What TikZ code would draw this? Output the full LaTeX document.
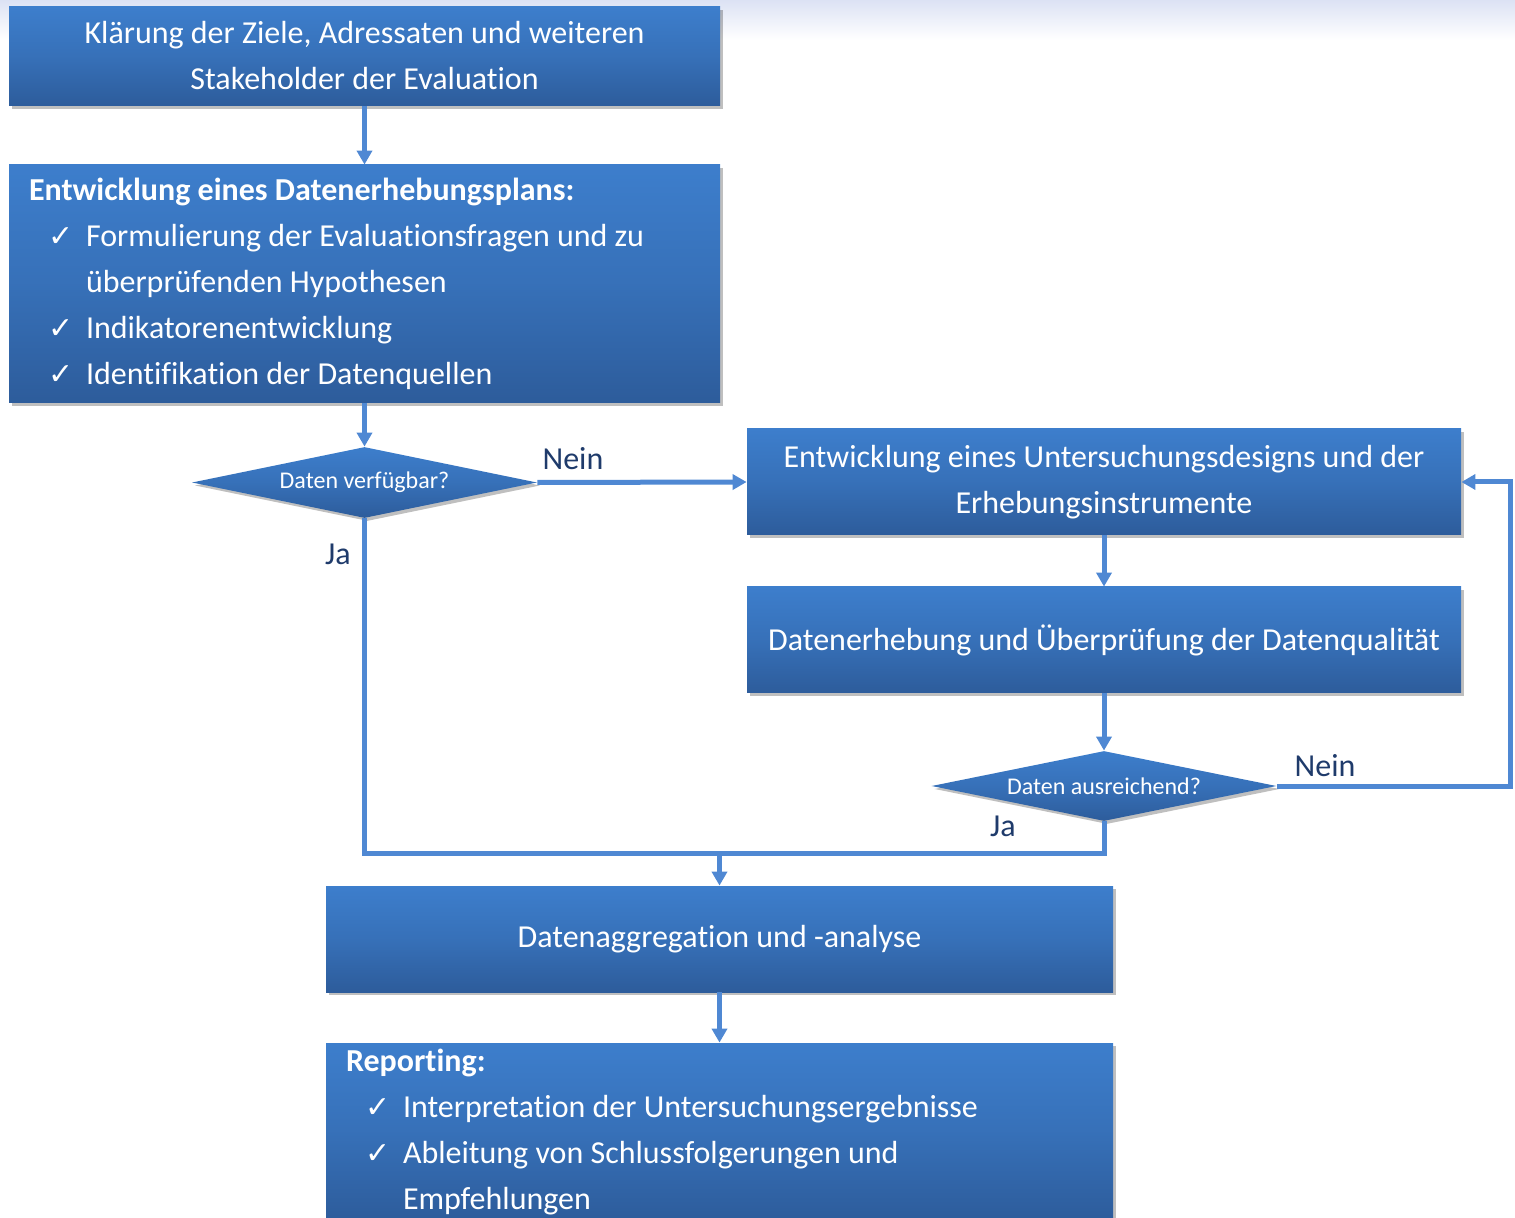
\documentclass[tikz,border=0pt]{standalone}
\usepackage{fontspec}
\setmainfont{Carlito}[Ligatures=NoCommon]
\newfontfamily\symfont{DejaVu Sans}
\usetikzlibrary{shapes.geometric,arrows.meta,shadows}
\definecolor{boxtop}{HTML}{3D7ECC}
\definecolor{boxbot}{HTML}{2D5C9B}
\definecolor{conn}{HTML}{4F88D3}
\definecolor{lbl}{HTML}{1F3B6B}
\definecolor{bgtop}{HTML}{DCE2F4}
\newcommand{\chk}{\hspace*{9.5pt}\makebox[19pt][l]{{\symfont\fontsize{15}{23}\selectfont ✓}}}
\newcommand{\cont}{\hspace*{28.5pt}}
\tikzset{
  boxshade/.style={top color=boxtop, bottom color=boxbot, middle color=boxtop!60!boxbot, shading=axis,
    drop shadow={shadow xshift=1.5pt, shadow yshift=-1.5pt, opacity=0.25, fill=black}},
  procbox/.style={boxshade, draw=none, rectangle, text=white, inner xsep=10pt, inner ysep=0pt,
    font=\fontsize{16}{23}\selectfont, align=center},
  listbox/.style={procbox, align=flush left},
  decision/.style={boxshade, draw=none, diamond, aspect=4.86, inner sep=0pt, text=white,
    font=\fontsize{12}{14}\selectfont},
  conline/.style={draw=conn, line width=2.5pt},
  arr/.style={conline, -{Triangle[width=7.5pt,length=7pt]}},
  lab/.style={text=lbl, font=\fontsize{16}{19}\selectfont, inner sep=0pt}
}
\begin{document}
\begin{tikzpicture}[x=0.5pt,y=-0.5pt]
\useasboundingbox (0,0) rectangle (1515,1218);
\shade[top color=bgtop, bottom color=white] (0,0) rectangle (1515,40);

\node[procbox, minimum width=355.5pt, minimum height=49.5pt] (b1) at (364.5,56.5)
  {\raisebox{1.5pt}{Klärung der Ziele, Adressaten und weiteren}\\\raisebox{1.5pt}{Stakeholder der Evaluation}};

\node[listbox, minimum width=355.5pt, minimum height=119pt, text width=335.5pt] (b2) at (364.5,284)
  {\textbf{Entwicklung eines Datenerhebungsplans:}\\
   \chk Formulierung der Evaluationsfragen und zu\\
   \cont überprüfenden Hypothesen\\
   \chk Indikatorenentwicklung\\
   \chk Identifikation der Datenquellen};

\node[decision, minimum width=172.5pt, minimum height=35.5pt] (d1) at (364.5,482.5) {Daten verfügbar?};

\node[procbox, minimum width=357pt, minimum height=53pt] (b3) at (1104,482)
  {Entwicklung eines Untersuchungsdesigns und der\\Erhebungsinstrumente};

\node[procbox, minimum width=357pt, minimum height=53pt] (b4) at (1104,640)
  {Datenerhebung und Überprüfung der Datenqualität};

\node[decision, minimum width=172.5pt, minimum height=35pt] (d2) at (1104,786) {Daten ausreichend?};

\node[procbox, minimum width=393.5pt, minimum height=53pt] (b5) at (719.5,939)
  {Datenaggregation und -analyse};

\node[listbox, minimum width=393.5pt, minimum height=89pt, text width=373.5pt] (b6) at (719.5,1132)
  {\textbf{Reporting:}\\
   \chk Interpretation der Untersuchungsergebnisse\\
   \chk Ableitung von Schlussfolgerungen und\\
   \cont Empfehlungen};

\coordinate (j) at (719.5,853);
\coordinate (r) at (1510,786);

\draw[arr] (b1.south) -- (b2.north);
\draw[arr] (b2.south) -- (d1.north);
\draw[arr] (d1.east) -- (b3.west);
\draw[conline] (d2.south) |- (j);
\draw[arr] (d1.south) |- (j) -- (b5.north);
\draw[arr] (b3.south) -- (b4.north);
\draw[arr] (b4.south) -- (d2.north);
\draw[arr] (d2.east) -- (r) |- (b3.east);
\draw[arr] (b5.south) -- (b6.north);

\node[lab] (n1) at (573,459) {Nein};
\node[lab] (y1) at (338,554) {Ja};
\node[lab] (n2) at (1325,766) {Nein};
\node[lab] (y2) at (1003,826) {Ja};
\end{tikzpicture}
\end{document}
